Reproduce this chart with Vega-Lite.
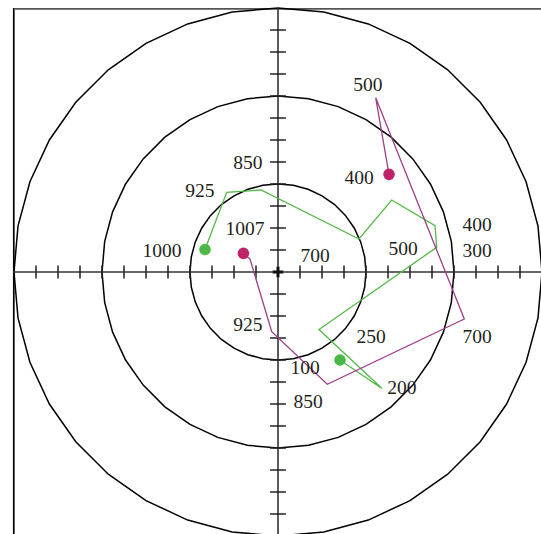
{
  "$schema": "https://vega.github.io/schema/vega-lite/v6.json",
  "width": 528,
  "height": 526,
  "padding": {"left": 13, "top": 8, "right": 0, "bottom": 0},
  "autosize": {"type": "none"},
  "background": "white",
  "view": {"stroke": null},
  "datasets": {
    "circles": [
      {"c":1,"o":0,"x":20,"y":0},{"c":1,"o":1,"x":19.7,"y":3.47},{"c":1,"o":2,"x":18.79,"y":6.84},{"c":1,"o":3,"x":17.32,"y":10},{"c":1,"o":4,"x":15.32,"y":12.86},{"c":1,"o":5,"x":12.86,"y":15.32},{"c":1,"o":6,"x":10,"y":17.32},{"c":1,"o":7,"x":6.84,"y":18.79},{"c":1,"o":8,"x":3.47,"y":19.7},{"c":1,"o":9,"x":0,"y":20},{"c":1,"o":10,"x":-3.47,"y":19.7},{"c":1,"o":11,"x":-6.84,"y":18.79},{"c":1,"o":12,"x":-10,"y":17.32},{"c":1,"o":13,"x":-12.86,"y":15.32},{"c":1,"o":14,"x":-15.32,"y":12.86},{"c":1,"o":15,"x":-17.32,"y":10},{"c":1,"o":16,"x":-18.79,"y":6.84},{"c":1,"o":17,"x":-19.7,"y":3.47},{"c":1,"o":18,"x":-20,"y":0},{"c":1,"o":19,"x":-19.7,"y":-3.47},{"c":1,"o":20,"x":-18.79,"y":-6.84},{"c":1,"o":21,"x":-17.32,"y":-10},{"c":1,"o":22,"x":-15.32,"y":-12.86},{"c":1,"o":23,"x":-12.86,"y":-15.32},{"c":1,"o":24,"x":-10,"y":-17.32},{"c":1,"o":25,"x":-6.84,"y":-18.79},{"c":1,"o":26,"x":-3.47,"y":-19.7},{"c":1,"o":27,"x":0,"y":-20},{"c":1,"o":28,"x":3.47,"y":-19.7},{"c":1,"o":29,"x":6.84,"y":-18.79},{"c":1,"o":30,"x":10,"y":-17.32},{"c":1,"o":31,"x":12.86,"y":-15.32},{"c":1,"o":32,"x":15.32,"y":-12.86},{"c":1,"o":33,"x":17.32,"y":-10},{"c":1,"o":34,"x":18.79,"y":-6.84},{"c":1,"o":35,"x":19.7,"y":-3.47},{"c":1,"o":36,"x":20,"y":0},
      {"c":2,"o":0,"x":40,"y":0},{"c":2,"o":1,"x":39.39,"y":6.95},{"c":2,"o":2,"x":37.59,"y":13.68},{"c":2,"o":3,"x":34.64,"y":20},{"c":2,"o":4,"x":30.64,"y":25.71},{"c":2,"o":5,"x":25.71,"y":30.64},{"c":2,"o":6,"x":20,"y":34.64},{"c":2,"o":7,"x":13.68,"y":37.59},{"c":2,"o":8,"x":6.95,"y":39.39},{"c":2,"o":9,"x":0,"y":40},{"c":2,"o":10,"x":-6.95,"y":39.39},{"c":2,"o":11,"x":-13.68,"y":37.59},{"c":2,"o":12,"x":-20,"y":34.64},{"c":2,"o":13,"x":-25.71,"y":30.64},{"c":2,"o":14,"x":-30.64,"y":25.71},{"c":2,"o":15,"x":-34.64,"y":20},{"c":2,"o":16,"x":-37.59,"y":13.68},{"c":2,"o":17,"x":-39.39,"y":6.95},{"c":2,"o":18,"x":-40,"y":0},{"c":2,"o":19,"x":-39.39,"y":-6.95},{"c":2,"o":20,"x":-37.59,"y":-13.68},{"c":2,"o":21,"x":-34.64,"y":-20},{"c":2,"o":22,"x":-30.64,"y":-25.71},{"c":2,"o":23,"x":-25.71,"y":-30.64},{"c":2,"o":24,"x":-20,"y":-34.64},{"c":2,"o":25,"x":-13.68,"y":-37.59},{"c":2,"o":26,"x":-6.95,"y":-39.39},{"c":2,"o":27,"x":0,"y":-40},{"c":2,"o":28,"x":6.95,"y":-39.39},{"c":2,"o":29,"x":13.68,"y":-37.59},{"c":2,"o":30,"x":20,"y":-34.64},{"c":2,"o":31,"x":25.71,"y":-30.64},{"c":2,"o":32,"x":30.64,"y":-25.71},{"c":2,"o":33,"x":34.64,"y":-20},{"c":2,"o":34,"x":37.59,"y":-13.68},{"c":2,"o":35,"x":39.39,"y":-6.95},{"c":2,"o":36,"x":40,"y":0},
      {"c":3,"o":0,"x":60,"y":0},{"c":3,"o":1,"x":59.09,"y":10.42},{"c":3,"o":2,"x":56.38,"y":20.52},{"c":3,"o":3,"x":51.96,"y":30},{"c":3,"o":4,"x":45.96,"y":38.57},{"c":3,"o":5,"x":38.57,"y":45.96},{"c":3,"o":6,"x":30,"y":51.96},{"c":3,"o":7,"x":20.52,"y":56.38},{"c":3,"o":8,"x":10.42,"y":59.09},{"c":3,"o":9,"x":0,"y":60},{"c":3,"o":10,"x":-10.42,"y":59.09},{"c":3,"o":11,"x":-20.52,"y":56.38},{"c":3,"o":12,"x":-30,"y":51.96},{"c":3,"o":13,"x":-38.57,"y":45.96},{"c":3,"o":14,"x":-45.96,"y":38.57},{"c":3,"o":15,"x":-51.96,"y":30},{"c":3,"o":16,"x":-56.38,"y":20.52},{"c":3,"o":17,"x":-59.09,"y":10.42},{"c":3,"o":18,"x":-60,"y":0},{"c":3,"o":19,"x":-59.09,"y":-10.42},{"c":3,"o":20,"x":-56.38,"y":-20.52},{"c":3,"o":21,"x":-51.96,"y":-30},{"c":3,"o":22,"x":-45.96,"y":-38.57},{"c":3,"o":23,"x":-38.57,"y":-45.96},{"c":3,"o":24,"x":-30,"y":-51.96},{"c":3,"o":25,"x":-20.52,"y":-56.38},{"c":3,"o":26,"x":-10.42,"y":-59.09},{"c":3,"o":27,"x":0,"y":-60},{"c":3,"o":28,"x":10.42,"y":-59.09},{"c":3,"o":29,"x":20.52,"y":-56.38},{"c":3,"o":30,"x":30,"y":-51.96},{"c":3,"o":31,"x":38.57,"y":-45.96},{"c":3,"o":32,"x":45.96,"y":-38.57},{"c":3,"o":33,"x":51.96,"y":-30},{"c":3,"o":34,"x":56.38,"y":-20.52},{"c":3,"o":35,"x":59.09,"y":-10.42},{"c":3,"o":36,"x":60,"y":0}
    ],
    "ticks": [
      {"t":-55},{"t":-50},{"t":-45},{"t":-40},{"t":-35},{"t":-30},{"t":-25},{"t":-20},{"t":-15},{"t":-10},{"t":-5},
      {"t":5},{"t":10},{"t":15},{"t":20},{"t":25},{"t":30},{"t":35},{"t":40},{"t":45},{"t":50},{"t":55}
    ],
    "axes": [
      {"x":-60.2,"x2":59.8,"y":0,"y2":0},
      {"x":0,"x2":0,"y":-59.6,"y2":60}
    ],
    "center": [
      {"x":-1.2,"x2":1.2,"y":0,"y2":0},
      {"x":0,"x2":0,"y":-1.2,"y2":1.2}
    ],
    "frameLeft": [{"x":-60.05,"x2":-60.05,"y":-59.6,"y2":60}],
    "frameTop": [{"x":-60.05,"x2":59.8,"y":59.8,"y2":59.8}],
    "paths": [
      {"s":"g","o":0,"x":-16.59,"y":5.11},
      {"s":"g","o":1,"x":-11.66,"y":18.11},
      {"s":"g","o":2,"x":-3.86,"y":18.64},
      {"s":"g","o":3,"x":18.41,"y":7.5},
      {"s":"g","o":4,"x":25.84,"y":16.36},
      {"s":"g","o":5,"x":35.68,"y":10.52},
      {"s":"g","o":6,"x":36.07,"y":5.61},
      {"s":"g","o":7,"x":9.32,"y":-13.07},
      {"s":"g","o":8,"x":23.64,"y":-26.48},
      {"s":"g","o":9,"x":14.09,"y":-20},
      {"s":"p","o":0,"x":-7.86,"y":4.24},
      {"s":"p","o":1,"x":-6.36,"y":2.95},
      {"s":"p","o":2,"x":-1.43,"y":-13.57},
      {"s":"p","o":3,"x":11.2,"y":-25.52},
      {"s":"p","o":4,"x":42.34,"y":-10.68},
      {"s":"p","o":5,"x":22.2,"y":39.61},
      {"s":"p","o":6,"x":25.23,"y":22.2}
    ],
    "dots": [
      {"s":"g","x":-16.59,"y":5.11},
      {"s":"g","x":14.09,"y":-20},
      {"s":"p","x":-7.86,"y":4.24},
      {"s":"p","x":25.23,"y":22.2}
    ],
    "labels": [
      {"t":"500","x":20.45,"y":42.5},
      {"t":"400","x":18.41,"y":21.36},
      {"t":"850","x":-6.82,"y":24.77},
      {"t":"925","x":-17.73,"y":18.41},
      {"t":"1007","x":-7.5,"y":9.77},
      {"t":"1000","x":-26.36,"y":4.77},
      {"t":"700","x":8.41,"y":3.64},
      {"t":"500","x":28.41,"y":5.23},
      {"t":"400","x":45.23,"y":10.68},
      {"t":"300","x":45.23,"y":4.77},
      {"t":"700","x":45.23,"y":-14.77},
      {"t":"250","x":21.14,"y":-14.77},
      {"t":"925","x":-6.82,"y":-12.05},
      {"t":"100","x":6.14,"y":-21.82},
      {"t":"200","x":28.18,"y":-26.36},
      {"t":"850","x":6.82,"y":-29.55}
    ]
  },
  "layer": [
    {
      "data": {"name": "frameLeft"},
      "mark": {"type": "rule", "color": "#000000", "strokeWidth": 1.7},
      "encoding": {
        "x": {"field": "x", "type": "quantitative", "scale": {"domain": [-60.2273, 59.7727], "nice": false, "zero": false}, "axis": null},
        "x2": {"field": "x2"},
        "y": {"field": "y", "type": "quantitative", "scale": {"domain": [-59.5455, 60], "nice": false, "zero": false}, "axis": null},
        "y2": {"field": "y2"}
      }
    },
    {
      "data": {"name": "frameTop"},
      "mark": {"type": "rule", "color": "#555555", "strokeWidth": 1.7},
      "encoding": {
        "x": {"field": "x", "type": "quantitative", "scale": {"domain": [-60.2273, 59.7727], "nice": false, "zero": false}, "axis": null},
        "x2": {"field": "x2"},
        "y": {"field": "y", "type": "quantitative", "scale": {"domain": [-59.5455, 60], "nice": false, "zero": false}, "axis": null},
        "y2": {"field": "y2"}
      }
    },
    {
      "data": {"name": "circles"},
      "mark": {"type": "line", "color": "#000000", "strokeWidth": 1.5},
      "encoding": {
        "x": {"field": "x", "type": "quantitative", "scale": {"domain": [-60.2273, 59.7727], "nice": false, "zero": false}, "axis": null},
        "y": {"field": "y", "type": "quantitative", "scale": {"domain": [-59.5455, 60], "nice": false, "zero": false}, "axis": null},
        "detail": {"field": "c", "type": "nominal"},
        "order": {"field": "o", "type": "quantitative"}
      }
    },
    {
      "data": {"name": "axes"},
      "mark": {"type": "rule", "color": "#333333", "strokeWidth": 1.6},
      "encoding": {
        "x": {"field": "x", "type": "quantitative", "scale": {"domain": [-60.2273, 59.7727], "nice": false, "zero": false}, "axis": null},
        "x2": {"field": "x2"},
        "y": {"field": "y", "type": "quantitative", "scale": {"domain": [-59.5455, 60], "nice": false, "zero": false}, "axis": null},
        "y2": {"field": "y2"}
      }
    },
    {
      "data": {"name": "ticks"},
      "mark": {"type": "rule", "color": "#222222", "strokeWidth": 1.5},
      "encoding": {
        "x": {"field": "t", "type": "quantitative", "scale": {"domain": [-60.2273, 59.7727], "nice": false, "zero": false}, "axis": null},
        "y": {"datum": -1.48, "type": "quantitative", "scale": {"domain": [-59.5455, 60], "nice": false, "zero": false}, "axis": null},
        "y2": {"datum": 1.48}
      }
    },
    {
      "data": {"name": "ticks"},
      "mark": {"type": "rule", "color": "#222222", "strokeWidth": 1.5},
      "encoding": {
        "y": {"field": "t", "type": "quantitative", "scale": {"domain": [-59.5455, 60], "nice": false, "zero": false}, "axis": null},
        "x": {"datum": -1.8, "type": "quantitative", "scale": {"domain": [-60.2273, 59.7727], "nice": false, "zero": false}, "axis": null},
        "x2": {"datum": 1.8}
      }
    },
    {
      "data": {"name": "center"},
      "mark": {"type": "rule", "color": "#111111", "strokeWidth": 3},
      "encoding": {
        "x": {"field": "x", "type": "quantitative", "scale": {"domain": [-60.2273, 59.7727], "nice": false, "zero": false}, "axis": null},
        "x2": {"field": "x2"},
        "y": {"field": "y", "type": "quantitative", "scale": {"domain": [-59.5455, 60], "nice": false, "zero": false}, "axis": null},
        "y2": {"field": "y2"}
      }
    },
    {
      "data": {"name": "paths"},
      "mark": {"type": "line", "strokeWidth": 1.3},
      "encoding": {
        "x": {"field": "x", "type": "quantitative", "scale": {"domain": [-60.2273, 59.7727], "nice": false, "zero": false}, "axis": null},
        "y": {"field": "y", "type": "quantitative", "scale": {"domain": [-59.5455, 60], "nice": false, "zero": false}, "axis": null},
        "color": {"field": "s", "type": "nominal", "scale": {"domain": ["g", "p"], "range": ["#52b947", "#a03d8a"]}, "legend": null},
        "order": {"field": "o", "type": "quantitative"}
      }
    },
    {
      "data": {"name": "dots"},
      "mark": {"type": "point", "filled": true, "opacity": 1, "size": 135, "shape": "circle"},
      "encoding": {
        "x": {"field": "x", "type": "quantitative", "scale": {"domain": [-60.2273, 59.7727], "nice": false, "zero": false}, "axis": null},
        "y": {"field": "y", "type": "quantitative", "scale": {"domain": [-59.5455, 60], "nice": false, "zero": false}, "axis": null},
        "fill": {"field": "s", "type": "nominal", "scale": {"domain": ["g", "p"], "range": ["#4cb847", "#c0226a"]}, "legend": null}
      }
    },
    {
      "data": {"name": "labels"},
      "mark": {"type": "text", "font": "Liberation Serif", "fontSize": 19.5, "color": "#231f20", "align": "center", "baseline": "middle"},
      "encoding": {
        "x": {"field": "x", "type": "quantitative", "scale": {"domain": [-60.2273, 59.7727], "nice": false, "zero": false}, "axis": null},
        "y": {"field": "y", "type": "quantitative", "scale": {"domain": [-59.5455, 60], "nice": false, "zero": false}, "axis": null},
        "text": {"field": "t", "type": "nominal"}
      }
    }
  ]
}
